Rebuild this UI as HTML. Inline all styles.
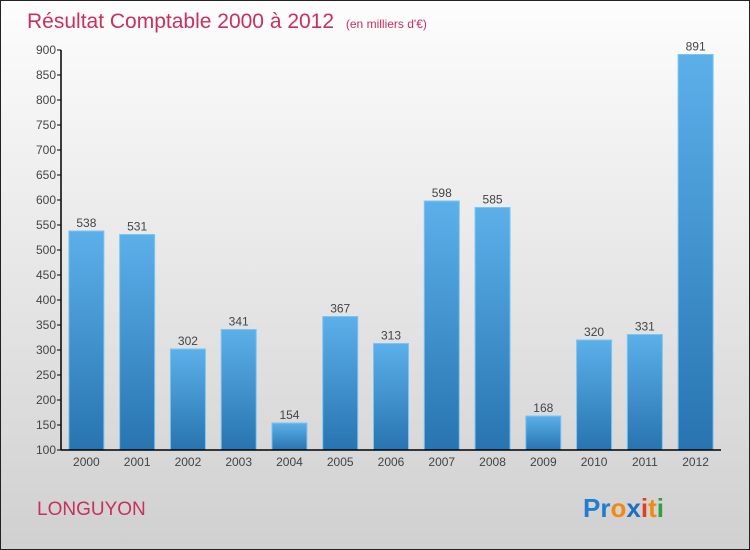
<!DOCTYPE html>
<html><head><meta charset="utf-8"><style>
body{margin:0;}
#c{width:750px;height:550px;position:relative;box-sizing:border-box;border:1px solid #222;background:linear-gradient(#fdfdfd,#d0d0d0);font-family:"Liberation Sans",sans-serif;overflow:hidden}
</style></head><body>
<div id="c">
<svg id="s" width="748" height="548" style="position:absolute;left:0;top:0">
<defs><linearGradient id="g" x1="0" y1="0" x2="0" y2="1"><stop offset="0" stop-color="#5cb0ea"/><stop offset="1" stop-color="#2774b0"/></linearGradient></defs>
<text x="26" y="27" font-size="21" fill="#c8305e">Résultat Comptable 2000 à 2012 <tspan font-size="12" dx="6">(en milliers d'€)</tspan></text>
<text x="36" y="514" font-size="19" fill="#c8305e">LONGUYON</text>
<g font-size="26" font-weight="bold" font-family="'Liberation Sans',sans-serif">
<text x="582" y="516"><tspan fill="#1e7fd0">Pr</tspan><tspan fill="#f08a10">o</tspan><tspan fill="#1e6fc0">x</tspan><tspan fill="#e04020">i</tspan><tspan fill="#f08a10">t</tspan><tspan fill="#30a040">i</tspan></text></g>
<g id="plot"></g>
</svg></div>
<script>
const categories=["2000","2001","2002","2003","2004","2005","2006","2007","2008","2009","2010","2011","2012"];
const values=[538,531,302,341,154,367,313,598,585,168,320,331,891];
const ticks=[100,150,200,250,300,350,400,450,500,550,600,650,700,750,800,850,900];
const X0=60,X1=720,Y0=449,Y1=49,vmin=100,vmax=900;
const band=(X1-X0)/categories.length;
const y=v=>Y0-(v-vmin)/(vmax-vmin)*(Y0-Y1);
const xc=i=>X0+band*(i+0.5);
const NS="http://www.w3.org/2000/svg",p=document.getElementById('plot');
function mk(t,a,txt){const e=document.createElementNS(NS,t);for(const k in a)e.setAttribute(k,a[k]);if(txt!==undefined)e.textContent=txt;p.appendChild(e);return e;}
values.forEach((v,i)=>{
 const r=mk('rect',{x:xc(i)-17.5,y:y(v),width:35,height:Y0-y(v),fill:'url(#g)',stroke:'#7cc4f4','stroke-width':1});
 
 
 const t=mk('text',{x:xc(i),y:y(v)-4,'text-anchor':'middle','font-size':12,fill:'#444'},v);
 
 
 const c=mk('text',{x:xc(i),y:Y0+16,'text-anchor':'middle','font-size':12,fill:'#444'},categories[i]);
 
 
});
ticks.forEach(t=>{
 const l=mk('line',{x1:X0-4,x2:X0,y1:y(t),y2:y(t),stroke:'#000'});
 
 
 const tx=mk('text',{x:X0-5,y:y(t)+4,'text-anchor':'end','font-size':12,fill:'#444'},t);
 
 
});
const ya=mk('line',{x1:X0,x2:X0,y1:Y1,y2:Y0,stroke:'#000','stroke-width':1.5});


const xa=mk('line',{x1:X0,x2:X1,y1:Y0,y2:Y0,stroke:'#000','stroke-width':1.5});


</script>
</body></html>
